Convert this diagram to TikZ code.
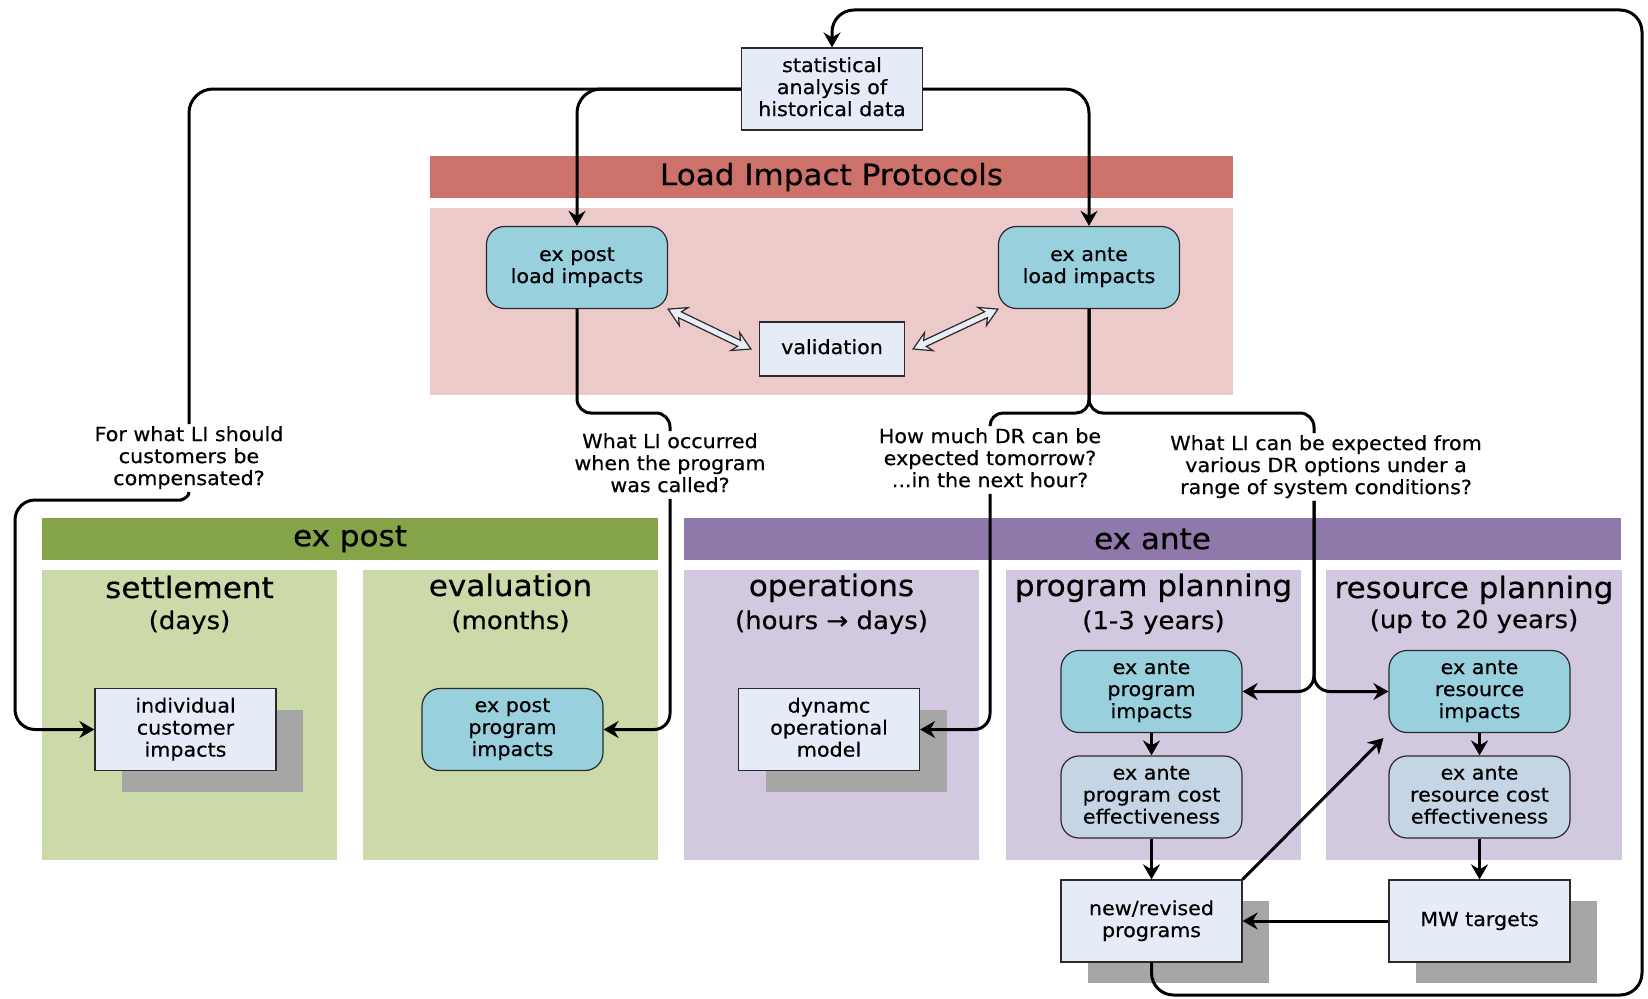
\documentclass[tikz,border=0pt]{standalone}
\usepackage{fontspec}
\setmainfont{DejaVu Sans}[FakeStretch=1.06,FakeBold=0.5]
\usetikzlibrary{arrows.meta,calc,shadows}
\definecolor{redbar}{HTML}{CD726A}
\definecolor{pinkfill}{HTML}{ECCACA}
\definecolor{greenbar}{HTML}{85A447}
\definecolor{greenfill}{HTML}{CBDAA8}
\definecolor{purplebar}{HTML}{8F79AA}
\definecolor{purplefill}{HTML}{D2C8DF}
\definecolor{cyanfill}{HTML}{99D0DE}
\definecolor{costfill}{HTML}{C6D5E5}
\definecolor{rectfill}{HTML}{E6ECF7}
\definecolor{shadowgray}{HTML}{A6A6A6}
\definecolor{boxline}{HTML}{2A2A2A}
\definecolor{dblfill}{HTML}{E8EEF7}
\newcommand\fsm{\fontsize{19.5}{22}\selectfont}
\newcommand\fbig{\fontsize{29.3}{32}\selectfont}
\newcommand\fmid{\fontsize{24.5}{28}\selectfont}
\newcommand\mystrut{\rule[-4.7pt]{0pt}{19.5pt}}
\tikzset{
  conn/.style={line width=3pt, draw=black, rounded corners=16pt},
  arr/.style={-{Stealth[length=15pt,width=17pt,inset=5pt]}},
  box/.style={draw=boxline, line width=1.2pt, fill=rectfill, minimum width=181pt,
    minimum height=82pt, align=center, font=\fsm, inner sep=1pt,
    execute at begin node=\mystrut, execute at end node=\mystrut},
  rbox/.style={box, rounded corners=18pt, fill=cyanfill},
  cbox/.style={box, rounded corners=18pt, fill=costfill},
  shad/.style={drop shadow={shadow xshift=27pt, shadow yshift=-21pt, fill=shadowgray, opacity=1}},
  qlabel/.style={align=center, font=\fsm, inner sep=2pt,
    execute at begin node=\mystrut, execute at end node=\mystrut},
  banner/.style={font=\fbig, inner sep=0pt, minimum height=42pt},
  ttl/.style={font=\fbig, anchor=base, inner sep=0pt},
  subttl/.style={font=\fmid, anchor=base, inner sep=0pt},
  dbl/.style={draw=boxline, fill=dblfill, line width=1.2pt, line join=miter}
}
\newcommand\dblarrow[2]{\draw[dbl] let \p1=(#1), \p2=(#2), \n1={atan2(\y2-\y1,\x2-\x1)} in
  (#1) -- ($(#1)+({\n1+30}:20pt)$) -- ($(#1)+({\n1+14}:13.5pt)$)
  -- ($(#2)+({\n1+166}:13.5pt)$) -- ($(#2)+({\n1+150}:20pt)$) -- (#2)
  -- ($(#2)+({\n1-150}:20pt)$) -- ($(#2)+({\n1-166}:13.5pt)$)
  -- ($(#1)+({\n1-14}:13.5pt)$) -- ($(#1)+({\n1-30}:20pt)$) -- cycle;}
\begin{document}
\begin{tikzpicture}[x=1pt,y=-1pt]
\useasboundingbox (0,0) rectangle (1648,998);
% panels
\fill[pinkfill] (430,208) rectangle (1233,395);
\node[banner, fill=redbar, minimum width=803pt] (lip) at (831.5,177) {Load Impact Protocols};
\node[banner, fill=greenbar, minimum width=616pt] (xp) at (350,539) {ex post};
\node[banner, fill=purplebar, minimum width=937pt] (xa) at (1152.5,539) {ex ante};
\fill[greenfill] (42,570) rectangle (337,860);
\fill[greenfill] (363,570) rectangle (658,860);
\fill[purplefill] (684,570) rectangle (979,860);
\fill[purplefill] (1006,570) rectangle (1301,860);
\fill[purplefill] (1326,570) rectangle (1622,860);
\node[ttl] (t1) at (189.5,598) {settlement};
\node[subttl] (s1) at (189.5,629) {(days)};
\node[ttl] (t2) at (510.5,596) {evaluation};
\node[subttl] (s2) at (510.5,629) {(months)};
\node[ttl] (t3) at (831.5,596) {operations};
\node[subttl] (s3) at (831.5,629) {(hours → days)};
\node[ttl] (t4) at (1153.5,596) {program planning};
\node[subttl] (s4) at (1153.5,629) {(1-3 years)};
\node[ttl] (t5) at (1474,598) {resource planning};
\node[subttl] (s5) at (1474,628) {(up to 20 years)};
% nodes
\node[box] (stat) at (832,89) {statistical\\analysis of\\historical data};
\node[rbox] (epli) at (577,267.5) {ex post\\load impacts};
\node[rbox] (eali) at (1089,267.5) {ex ante\\load impacts};
\node[box, minimum width=145pt, minimum height=54pt] (val) at (832,349) {validation};
\node[box, shad] (icu) at (185.5,729.5) {individual\\customer\\impacts};
\node[rbox] (eppi) at (512.5,729.5) {ex post\\program\\impacts};
\node[box, shad] (dom) at (829,729.5) {dynamc\\operational\\model};
\node[rbox] (eapi) at (1151.5,691.5) {ex ante\\program\\impacts};
\node[cbox] (eaci) at (1151.5,797) {ex ante\\program cost\\effectiveness};
\node[box, shad] (nrp) at (1151.5,921) {new/revised\\programs};
\node[rbox] (eari) at (1479.5,691.5) {ex ante\\resource\\impacts};
\node[cbox] (erci) at (1479.5,797) {ex ante\\resource cost\\effectiveness};
\node[box, shad] (mw) at (1479.5,921) {MW targets};
% question labels
\node[qlabel] (q1) at (189,458) {For what LI should\\customers be\\compensated?};
\node[qlabel] (q2) at (670,465) {What LI occurred\\when the program\\was called?};
\node[qlabel] (q3) at (990,460) {How much DR can be\\expected tomorrow?\\...in the next hour?};
\node[qlabel] (q4) at (1326,467) {What LI can be expected from\\various DR options under a\\range of system conditions?};
% helper coordinates
\coordinate (hy) at (0,413);
\coordinate (lx) at (15,0);
\coordinate (c1) at (165,500);
\coordinate (q4t) at ([xshift=-12pt]q4.north);
\coordinate (q4b) at ([xshift=-12pt]q4.south);
\coordinate (loopbr) at (1642,995);
\coordinate (looptr) at (1642,10);
\coordinate (v1) at ([xshift=-8pt]val.west);
\coordinate (v2) at ([xshift=8pt]val.east);
% connectors
\draw[conn, rounded corners=24pt] (stat.west) -| (q1.north);
\draw[conn, arr, rounded corners=24pt] (stat.west) -| (epli.north);
\draw[conn, arr, rounded corners=24pt] (stat.east) -| (eali.north);
\draw[conn, arr] (q1.south) .. controls +(0,7) and +(14,0) .. (c1) [rounded corners=20pt] -| (lx |- icu.west) -- (icu.west);
\draw[conn, rounded corners=14pt] (epli.south) |- (q2.north |- hy) -- (q2.north);
\draw[conn, arr] (q2.south) |- (eppi.east);
\draw[conn, rounded corners=13pt] (eali.south) |- (q3.north |- hy) -- (q3.north);
\draw[conn, rounded corners=14pt] (eali.south) |- (q4t |- hy) -- (q4t);
\draw[conn, arr] (q3.south) |- (dom.east);
\draw[conn, arr] (q4b) |- (eapi.east);
\draw[conn, arr] (q4b) |- (eari.west);
\draw[conn, arr] (eapi.south) -- (eaci.north);
\draw[conn, arr] (eaci.south) -- (nrp.north);
\draw[conn, arr] (eari.south) -- (erci.north);
\draw[conn, arr] (erci.south) -- (mw.north);
\draw[conn, arr] (mw.west) -- (nrp.east);
\draw[conn, arr, shorten >=7pt] (nrp.north east) -- (eari.south west);
\draw[conn, arr, rounded corners=22pt] (nrp.south) |- (loopbr) -- (looptr) -| (stat.north);
% validation double arrows
\dblarrow{epli.south east}{v1}
\dblarrow{v2}{eali.south west}
\end{tikzpicture}
\end{document}
